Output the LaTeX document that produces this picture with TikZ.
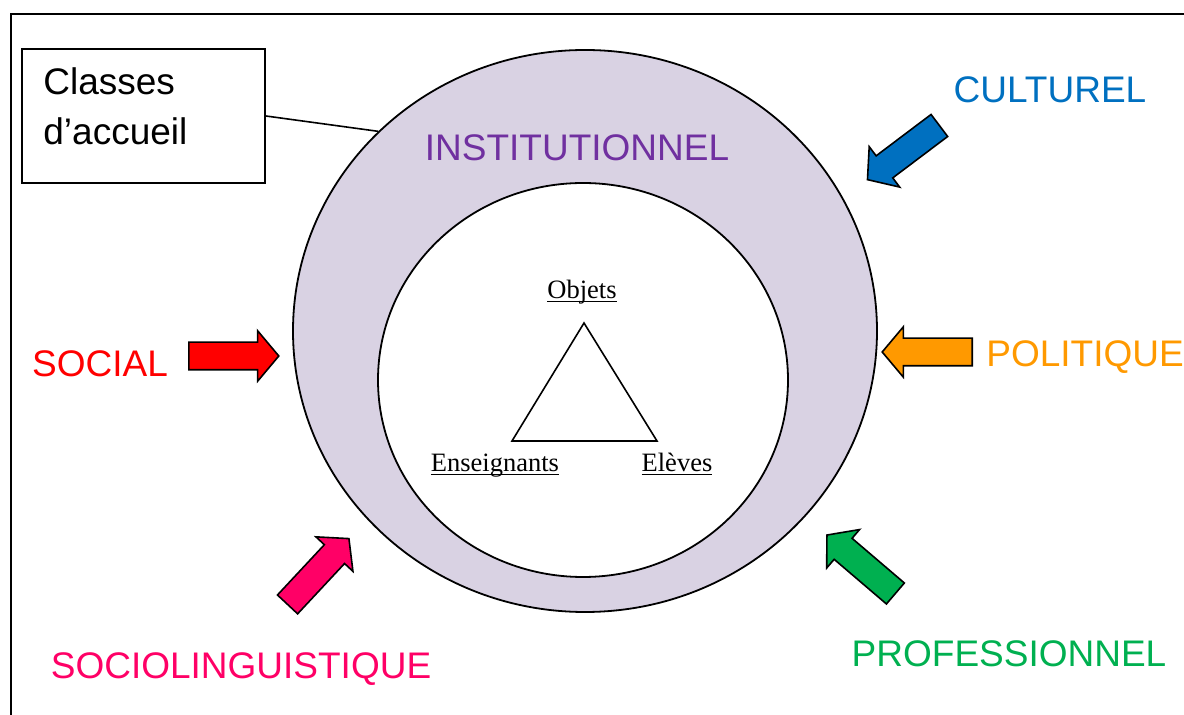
\documentclass[tikz,border=0pt]{standalone}
\usepackage{fontspec}
\setmainfont{Liberation Sans}
\newfontfamily\serifface{Liberation Serif}
\usetikzlibrary{shapes.geometric,shapes.arrows}
\definecolor{lavender}{RGB}{217,210,227}
\definecolor{cblue}{RGB}{0,112,192}
\definecolor{cred}{RGB}{255,0,0}
\definecolor{corange}{RGB}{255,153,0}
\definecolor{cpink}{RGB}{255,0,102}
\definecolor{cgreen}{RGB}{0,176,80}
\definecolor{cpurple}{RGB}{112,48,160}
\newcommand{\souligne}[1]{\underline{\smash{#1}}}

\begin{document}
\begin{tikzpicture}[x=0.5pt,y=-0.5pt,
  big/.style={font=\fontsize{18.5}{22}\selectfont,inner sep=0pt,anchor=base},
  small/.style={font=\serifface\fontsize{13.25}{16}\selectfont,inner sep=0pt,anchor=base},
  blockarrow/.style={single arrow,draw=black,line width=0.8pt,inner xsep=0pt,inner ysep=6.5pt,
    minimum height=45pt,single arrow head extend=5.75pt,
    single arrow tip angle=100,anchor=tail},
  ring/.style={ellipse,draw=black,line width=0.9pt,inner sep=0pt}]
\clip (0,0) rectangle (1184,715);
\draw[line width=0.9pt] (11,14) rectangle (1210,740);
% cercles
\node[ring,fill=lavender,minimum width=292pt,minimum height=281pt] (outer) at (585,331) {};
\node[ring,fill=white,minimum width=205pt,minimum height=197pt] (inner) at (583,380) {};
\node[big,text=cpurple] (inst) at (577,161) {INSTITUTIONNEL};
% triangle
\coordinate (top) at (584,323);
\coordinate (left) at (512,441);
\coordinate (right) at (657,441);
\draw[line width=0.8pt] (top) -- (left) -- (right) -- cycle;
\node[small] (objets) at (582,299) {\souligne{Objets}};
\node[small] (ens) at (495,472) {\souligne{Enseignants}};
\node[small] (eleves) at (677,472) {\souligne{Elèves}};
% classes d'accueil
\node[draw,line width=0.9pt,minimum width=121.5pt,minimum height=67pt,inner sep=0pt] (classes) at (143.5,116) {};
\node[big,anchor=base west] (cl1) at (43,95) {Classes};
\node[big,anchor=base west] (cl2) at (43,145) {d’accueil};
\draw[line width=0.8pt] (classes.east) -- (outer.136);
% fleches
\node[blockarrow,fill=cblue,rotate=217] (aculturel) at (940,125) {};
\node[blockarrow,fill=cred] (asocial) at (188,356) {};
\node[blockarrow,fill=corange,rotate=180] (apolitique) at (973,352) {};
\node[blockarrow,fill=cpink,rotate=47] (asocio) at (287,605) {};
\node[blockarrow,fill=cgreen,rotate=139.5] (aprof) at (896,594) {};
% textes
\node[big,text=cblue] (culturel) at (1050,103) {CULTUREL};
\node[big,text=cred] (social) at (100,377) {SOCIAL};
\node[big,text=corange] (politique) at (1085,367) {POLITIQUE};
\node[big,text=cpink] (socio) at (241,679) {SOCIOLINGUISTIQUE};
\node[big,text=cgreen] (prof) at (1009,667) {PROFESSIONNEL};
\end{tikzpicture}
\end{document}
